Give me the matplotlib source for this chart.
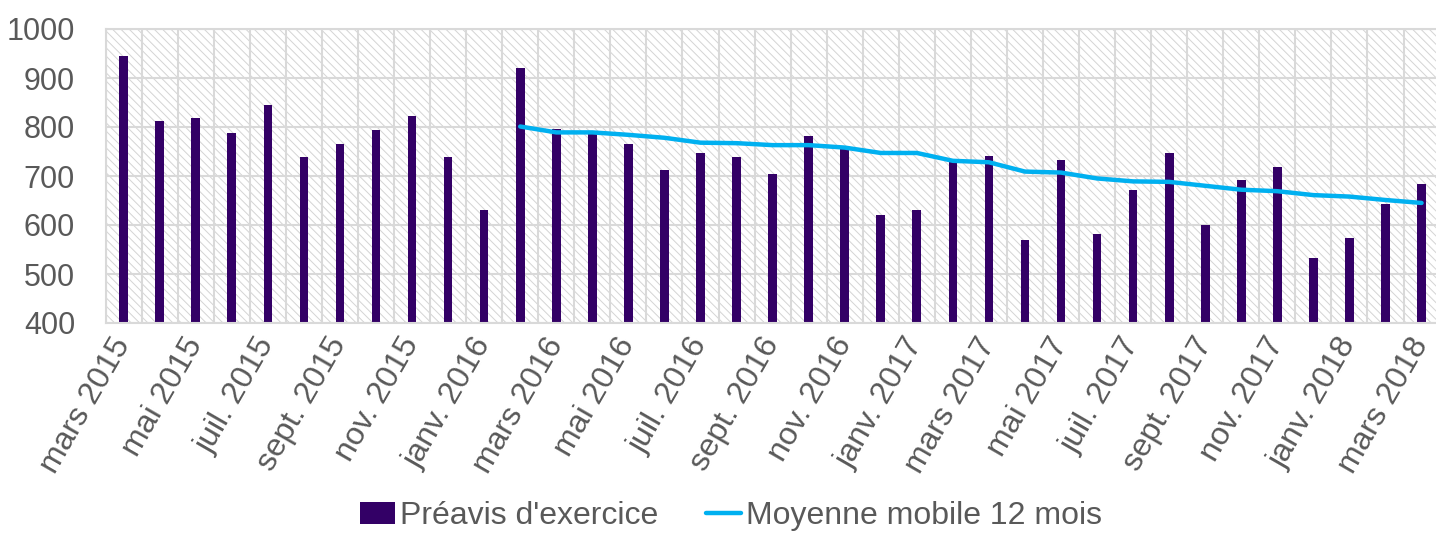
import numpy as np
import matplotlib.pyplot as plt
from matplotlib.patches import Rectangle

plt.rcParams['font.family'] = ['Liberation Sans', 'DejaVu Sans']

# mois de mars 2015 a mars 2018
mois = ['mars 2015', 'avr. 2015', 'mai 2015', 'juin 2015', 'juil. 2015', 'août 2015',
        'sept. 2015', 'oct. 2015', 'nov. 2015', 'déc. 2015', 'janv. 2016', 'févr. 2016',
        'mars 2016', 'avr. 2016', 'mai 2016', 'juin 2016', 'juil. 2016', 'août 2016',
        'sept. 2016', 'oct. 2016', 'nov. 2016', 'déc. 2016', 'janv. 2017', 'févr. 2017',
        'mars 2017', 'avr. 2017', 'mai 2017', 'juin 2017', 'juil. 2017', 'août 2017',
        'sept. 2017', 'oct. 2017', 'nov. 2017', 'déc. 2017', 'janv. 2018', 'févr. 2018',
        'mars 2018']

preavis = [944, 812, 818, 787, 845, 738, 765, 793, 823, 738, 631, 920,
           796, 787, 765, 713, 746, 738, 705, 782, 755, 620, 631, 728,
           741, 569, 732, 582, 672, 746, 601, 691, 719, 532, 573, 642, 684]

# moyenne mobile (a partir de févr. 2016)
debut_moyenne = 11
moyenne = [801, 789, 789, 784, 778, 768, 767, 763, 763, 758, 747, 747, 731,
           728, 709, 707, 695, 689, 688, 680, 672, 669, 661, 658, 651, 645]

violet = '#330066'
bleu = '#00B0F0'
gris = '#595959'
grille = '#D9D9D9'

fig = plt.figure(figsize=(14.36, 5.33), dpi=100)
ax = fig.add_axes([105.6 / 1436, 1 - 323 / 533, 1334 / 1436, 294 / 533])

x = np.arange(len(mois))
ax.set_xlim(-0.5, len(mois) - 0.5)
ax.set_ylim(400, 1000)

# fond hachuré
plt.rcParams['hatch.linewidth'] = 0.7
fond = Rectangle((0, 0), 1, 1, transform=ax.transAxes, facecolor='white',
                 edgecolor='#D4D4D4', hatch='\\\\\\\\', linewidth=0, zorder=0)
ax.add_patch(fond)

ax.set_yticks(range(400, 1001, 100))
ax.set_xticks(np.arange(-0.5, len(mois), 1), minor=True)
ax.grid(True, axis='y', color=grille, linewidth=1.5, zorder=1)
ax.grid(True, axis='x', which='minor', color=grille, linewidth=1.5, zorder=1)
ax.set_axisbelow(True)

barres = ax.bar(x, preavis, width=0.24, bottom=0, color=violet, zorder=2,
                label="Préavis d'exercice")
ligne, = ax.plot(x[debut_moyenne:], moyenne, color=bleu, linewidth=3.2, zorder=3,
                 solid_capstyle='round', label='Moyenne mobile 12 mois')

ax.set_xticks(x[::2])
ax.set_xticklabels(mois[::2], rotation=60, ha='right', va='center',
                   rotation_mode='anchor', fontsize=23, color=gris)
ax.tick_params(axis='x', which='both', length=0, pad=12)
ax.tick_params(axis='y', length=0, pad=22, labelsize=22, labelcolor=gris)

for s in ax.spines.values():
    s.set_color(grille)
    s.set_linewidth(1.5)

fig.legend(handles=[barres, ligne], loc='center', bbox_to_anchor=(731 / 1436, 0.032),
           ncol=2, frameon=False, fontsize=23, labelcolor=gris,
           handlelength=1.1, handletextpad=0.15, columnspacing=1.5)

fig.savefig('out.png', dpi=100)
